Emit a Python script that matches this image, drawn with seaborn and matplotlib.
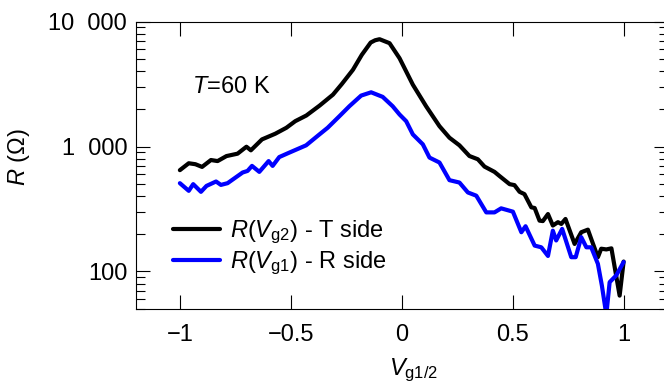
import numpy as np
import pandas as pd
import matplotlib
matplotlib.use("Agg")
import matplotlib.pyplot as plt
import seaborn as sns

# ---- data ----
x_t = [-1.0, -0.96, -0.93, -0.90, -0.86, -0.83, -0.79, -0.74, -0.70, -0.68, -0.63,
       -0.57, -0.52, -0.48, -0.43, -0.37, -0.31, -0.27, -0.22, -0.18, -0.14, -0.12,
       -0.10, -0.055, -0.01, 0.05, 0.11, 0.17, 0.215, 0.26, 0.305, 0.343, 0.373,
       0.418, 0.44, 0.486, 0.508, 0.531, 0.553, 0.584, 0.599, 0.621, 0.636, 0.659,
       0.681, 0.704, 0.719, 0.738, 0.779, 0.809, 0.839, 0.854, 0.884, 0.899, 0.922,
       0.945, 0.982, 1.0]
r_t = [647, 735, 722, 687, 780, 765, 839, 877, 997, 933, 1141,
       1267, 1414, 1597, 1773, 2130, 2606, 3170, 4120, 5430, 6810, 7100,
       7240, 6730, 5100, 3130, 2100, 1456, 1177, 1023, 840, 791, 691,
       627, 582, 500, 491, 434, 416, 326, 322, 255, 253, 288,
       233, 248, 240, 263, 166, 206, 216, 182, 130, 152, 150,
       153, 64, 120]

x_r = [-1.0, -0.96, -0.94, -0.905, -0.88, -0.837, -0.815, -0.785, -0.717, -0.695,
       -0.675, -0.642, -0.60, -0.582, -0.552, -0.507, -0.431, -0.371, -0.334, -0.281,
       -0.236, -0.183, -0.138, -0.086, -0.041, -0.01, 0.02, 0.05, 0.095, 0.125, 0.17,
       0.215, 0.26, 0.298, 0.336, 0.381, 0.418, 0.448, 0.501, 0.539, 0.558, 0.599,
       0.629, 0.659, 0.681, 0.696, 0.723, 0.764, 0.784, 0.809, 0.832, 0.854, 0.884,
       0.902, 0.922, 0.937, 0.967, 1.0]
r_r = [509, 442, 500, 434, 484, 525, 493, 509, 620, 638,
       700, 627, 765, 700, 824, 894, 1023, 1251, 1414, 1750,
       2104, 2560, 2720, 2500, 2104, 1807, 1596, 1251, 1042, 816, 745,
       538, 515, 429, 404, 297, 297, 320, 301, 206, 230, 161,
       156, 133, 212, 177, 219, 130, 130, 188, 156, 156, 115,
       77, 45, 82, 93, 119]

label_t = r"$R$($V_{\mathrm{g2}}$) - T side"
label_r = r"$R$($V_{\mathrm{g1}}$) - R side"
yticks = [100, 1000, 10000]
ytick_labels = ["100", "1\u2007000", "10\u2007000"]
xticks = [-1, -0.5, 0, 0.5, 1]
xtick_labels = ["\u22121", "\u22120.5", "0", "0.5", "1"]

# ---- style ----
sns.set_style("ticks")
plt.rcParams["font.family"] = ["Liberation Sans", "DejaVu Sans"]
plt.rcParams["mathtext.fontset"] = "custom"
plt.rcParams["mathtext.rm"] = "Liberation Sans"
plt.rcParams["mathtext.it"] = "Liberation Sans:italic"
plt.rcParams["mathtext.bf"] = "Liberation Sans:bold"
for k in ["text.color", "axes.labelcolor", "xtick.color", "ytick.color", "axes.edgecolor"]:
    plt.rcParams[k] = "black"
FS = 17

fig = plt.figure(figsize=(6.64, 3.91), dpi=100)
ax = fig.add_axes([135.5 / 664, 82 / 391, 532.5 / 664, 287.3 / 391])

df_t = pd.DataFrame({"x": x_t, "R": r_t})
df_r = pd.DataFrame({"x": x_r, "R": r_r})
sns.lineplot(data=df_t, x="x", y="R", ax=ax, color="black", lw=3,
             label=label_t, sort=False, estimator=None)
sns.lineplot(data=df_r, x="x", y="R", ax=ax, color="#0000ff", lw=3,
             label=label_r, sort=False, estimator=None)

ax.set_yscale("log")
ax.set_xlim(-1.2, 1.2)
ax.set_ylim(50, 10000)
ax.set_yticks(yticks)
ax.set_yticklabels(ytick_labels)
ax.set_xticks(xticks)
ax.set_xticklabels(xtick_labels)
ax.xaxis.set_minor_locator(matplotlib.ticker.NullLocator())
ax.yaxis.set_minor_locator(matplotlib.ticker.LogLocator(base=10, subs=np.arange(2, 10)))
ax.yaxis.set_minor_formatter(matplotlib.ticker.NullFormatter())

ax.tick_params(axis="both", which="both", direction="in", top=True, right=True,
               width=0.8, color="black", labelcolor="black", labelsize=FS)
ax.tick_params(axis="both", which="major", length=10)
ax.tick_params(axis="y", which="minor", length=6.5)
ax.tick_params(axis="y", which="major", pad=6)
ax.tick_params(axis="x", which="major", pad=11)
for s in ax.spines.values():
    s.set_linewidth(0.8)
    s.set_color("black")

ax.set_xlabel(r"$V_{\mathrm{g1/2}}$", fontsize=FS, color="black")
ax.set_ylabel(r"$R$ (Ω)", fontsize=FS, color="black")
ax.xaxis.set_label_coords(0.523, -0.165)
ax.yaxis.set_label_coords(-0.195, 0.53)

ax.text(-0.945, 3000, r"$T$=60 K", fontsize=FS, va="center", ha="left", color="black")

leg = ax.legend(loc="upper left", bbox_to_anchor=((173 - 135.5) / 532.5, 0.313),
                frameon=False, fontsize=FS, handlelength=2.0, handletextpad=0.4,
                labelspacing=0.15, borderpad=0, borderaxespad=0)
for h in leg.get_lines():
    h.set_linewidth(3)
for t in leg.get_texts():
    t.set_color("black")

fig.savefig("out.png", dpi=100)
